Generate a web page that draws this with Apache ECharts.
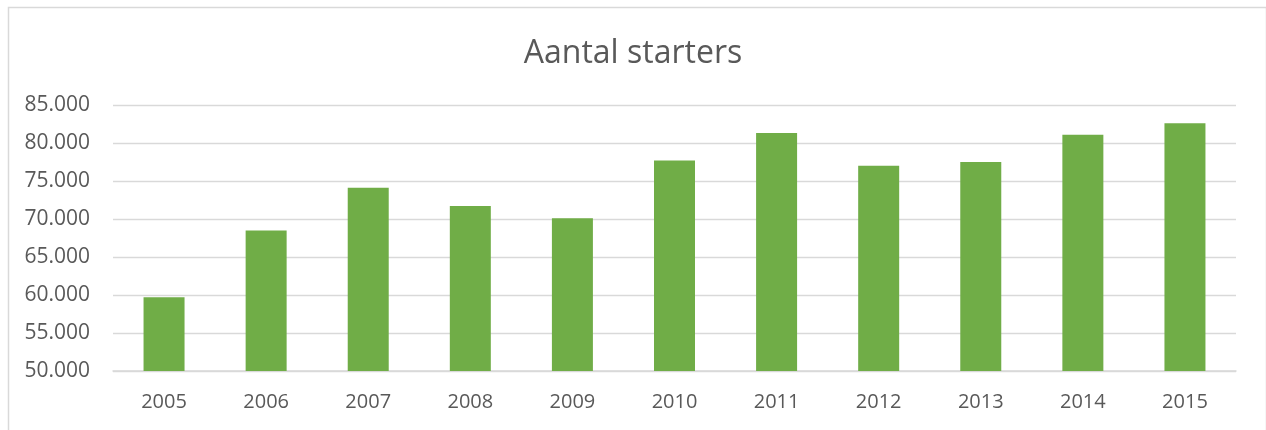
<!DOCTYPE html>
<html>
<head>
<meta charset="utf-8">
<title>Aantal starters</title>
<script src="https://cdn.jsdelivr.net/npm/echarts@6/dist/echarts.min.js"></script>
<style>
  html, body { margin: 0; padding: 0; background: #fff; }
  #main { width: 1266px; height: 430px; }
</style>
</head>
<body>
<div id="main"></div>
<script>
var years = ['2005', '2006', '2007', '2008', '2009', '2010', '2011', '2012', '2013', '2014', '2015'];
var starters = [59700, 68500, 74100, 71700, 70100, 77700, 81300, 77000, 77500, 81100, 82600];
var yTicks = [50000, 55000, 60000, 65000, 70000, 75000, 80000, 85000];

var chart = echarts.init(document.getElementById('main'));

function fmt(v) {
    // 85000 -> 85.000
    return String(v).replace(/\B(?=(\d{3})+(?!\d))/g, '.');
}

chart.setOption({
    animation: false,
    title: {
        text: 'Aantal starters',
        left: 'center',
        top: 33,
        textStyle: {
            fontFamily: 'Open Sans',
            fontSize: 32,
            fontWeight: 'normal',
            color: '#595959'
        }
    },
    graphic: [{
        type: 'rect',
        left: 6,
        top: 5,
        shape: { width: 1258, height: 440 },
        style: { fill: 'none', stroke: '#d9d9d9', lineWidth: 1.5 }
    }],
    grid: {
        left: 113,
        right: 30,
        top: 105,
        bottom: 59
    },
    xAxis: {
        type: 'category',
        data: years,
        axisLine: { lineStyle: { color: '#d9d9d9', width: 1.5 } },
        axisTick: { show: false },
        axisLabel: {
            margin: 21,
            fontFamily: 'Open Sans',
            fontSize: 20,
            color: '#595959'
        }
    },
    yAxis: {
        type: 'value',
        min: yTicks[0],
        max: yTicks[yTicks.length - 1],
        interval: 5000,
        axisLine: { show: false },
        axisTick: { show: false },
        splitLine: { lineStyle: { color: '#d9d9d9', width: 1.3 } },
        axisLabel: {
            margin: 23,
            fontFamily: 'Open Sans',
            fontSize: 21,
            color: '#595959',
            formatter: fmt
        }
    },
    series: [{
        name: 'Aantal starters',
        type: 'bar',
        data: starters,
        barWidth: 41,
        itemStyle: { color: '#70ad47' }
    }]
});
</script>
</body>
</html>
